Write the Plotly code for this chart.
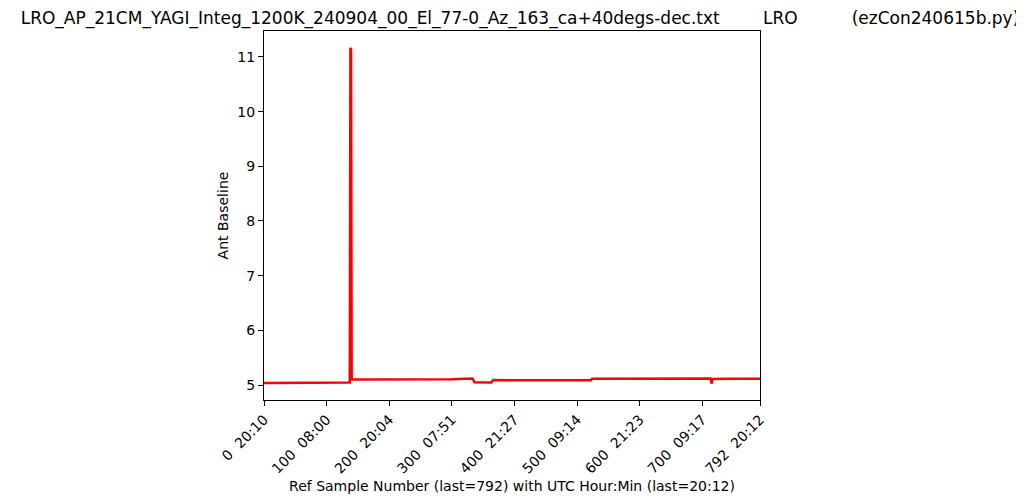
import plotly.graph_objects as go

NB = "\u00a0"

# Data (sample number, baseline value)
sample_num = [0, 30, 60, 90, 120, 137, 138, 139, 140, 160, 200, 240, 270, 300, 320,
              333, 336, 350, 363, 366, 400, 450, 500, 522, 524, 560, 600, 640,
              660, 690, 713, 715, 716, 740, 770, 792]
ant_baseline = [5.035, 5.037, 5.038, 5.04, 5.042, 5.045, 11.17, 11.12, 5.10, 5.10,
                5.092, 5.098, 5.10, 5.105, 5.115, 5.12, 5.05, 5.048, 5.045, 5.09,
                5.09, 5.085, 5.082, 5.085, 5.115, 5.115, 5.12, 5.122, 5.128, 5.125,
                5.12, 5.025, 5.11, 5.115, 5.112, 5.115]

tick_vals = [0, 100, 200, 300, 400, 500, 600, 700, 792]
tick_times = ["20:10", "08:00", "20:04", "07:51", "21:27", "09:14", "21:23", "09:17", "20:12"]
tick_text = [f"{v}{NB}{NB}{t}" for v, t in zip(tick_vals, tick_times)]

title_parts = ["LRO_AP_21CM_YAGI_Integ_1200K_240904_00_El_77-0_Az_163_ca+40degs-dec.txt",
               "LRO", "(ezCon240615b.py)"]
title_text = (title_parts[0] + NB * 8 + title_parts[1] + NB * 10 + title_parts[2])

FONT = "DejaVu Sans"

fig = go.Figure()
fig.add_trace(go.Scatter(x=sample_num, y=ant_baseline, mode="lines",
                         line=dict(color="#ff0000", width=2.5), showlegend=False))

axis_common = dict(showline=True, linecolor="black", linewidth=1, mirror=True,
                   ticks="outside", ticklen=5, tickcolor="black", tickwidth=1,
                   showgrid=False, zeroline=False,
                   tickfont=dict(family=FONT, size=14, color="black"))

fig.update_layout(
    width=1024, height=503,
    margin=dict(l=256, r=272, t=23, b=111),
    paper_bgcolor="white", plot_bgcolor="white",
    font=dict(family=FONT, color="black"),
    title=dict(text=title_text, x=0.5, xanchor="center", y=0.98, yanchor="middle",
               font=dict(family=FONT, size=17, color="black")),
    xaxis=dict(range=[0, 792], tickvals=tick_vals, ticktext=tick_text, tickangle=-45,
               title=dict(text="Ref Sample Number (last=792) with UTC Hour:Min (last=20:12)",
                          font=dict(family=FONT, size=14, color="black"), standoff=5),
               automargin=False, **axis_common),
    yaxis=dict(range=[4.726, 11.475], tickvals=[5, 6, 7, 8, 9, 10, 11],
               title=dict(text="Ant Baseline", font=dict(family=FONT, size=14, color="black"),
                          standoff=5),
               automargin=False, **axis_common),
)

fig.write_html("out.html")
